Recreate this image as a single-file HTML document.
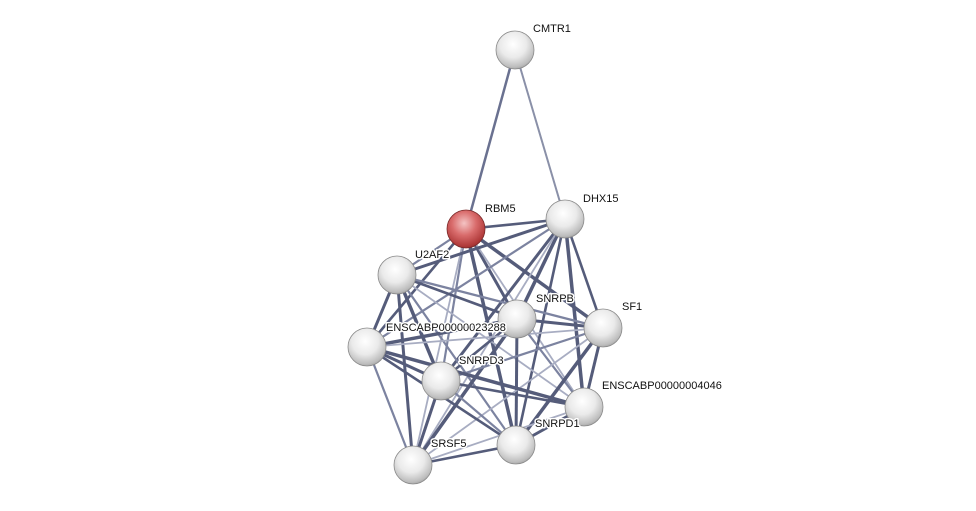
<!DOCTYPE html>
<html><head><meta charset="utf-8"><style>
html,body{margin:0;padding:0;background:#fff;width:976px;height:511px;overflow:hidden}
text{font-family:"Liberation Sans",sans-serif;font-size:11px;fill:#111;stroke:#fff;stroke-width:3px;stroke-linejoin:round;paint-order:stroke}
</style></head><body>
<svg id="s" width="976" height="511" xmlns="http://www.w3.org/2000/svg">
<defs>
<radialGradient id="g" cx="0.45" cy="0.35" r="0.7">
<stop offset="0" stop-color="#ffffff"/><stop offset="0.5" stop-color="#eaeaea"/><stop offset="0.85" stop-color="#bdbdbd"/><stop offset="1" stop-color="#9a9a9a"/></radialGradient>
<radialGradient id="r" cx="0.45" cy="0.35" r="0.7">
<stop offset="0" stop-color="#f4c4c4"/><stop offset="0.45" stop-color="#d96c6c"/><stop offset="0.85" stop-color="#b03a3a"/><stop offset="1" stop-color="#8a2a2a"/></radialGradient>
</defs>
<g id="e"></g><g id="n"></g><g id="t"></g>
</svg>
<script>
var N={CMTR1:[515,50,533,32],RBM5:[466,229,485,212],DHX15:[565,219,583,202],U2AF2:[397,275,415,258],SNRPB:[517,319,536,302],SF1:[603,328,622,310],E1:[367,347,386,331],SNRPD3:[441,381,459,364],E2:[584,407,602,389],SNRPD1:[516,445,535,427],SRSF5:[413,465,431,447]};
var L={E1:"ENSCABP00000023288",E2:"ENSCABP00000004046"};
var ns="http://www.w3.org/2000/svg",E=document.getElementById('e'),G=document.getElementById('n'),T=document.getElementById('t');
function ln(a,b,w,c){var l=document.createElementNS(ns,'line');l.setAttribute('x1',N[a][0]);l.setAttribute('y1',N[a][1]);l.setAttribute('x2',N[b][0]);l.setAttribute('y2',N[b][1]);l.setAttribute('stroke',c);l.setAttribute('stroke-width',w);E.appendChild(l);}
ln('CMTR1','RBM5',2.5,'#6a7190');ln('CMTR1','DHX15',2,'#8a90a8');
var k=['RBM5','DHX15','U2AF2','SNRPB','SF1','E1','SNRPD3','E2','SNRPD1','SRSF5'];
var light={'RBM5-E2':1,'SF1-SRSF5':1,'E2-SRSF5':1,'RBM5-SRSF5':1,'DHX15-SRSF5':1,'SF1-E1':1,'U2AF2-E2':1};
for(var i=0;i<k.length;i++)for(var j=i+1;j<k.length;j++){var key=k[i]+'-'+k[j];var h=(i*7+j*3)%4;
if(light[key])ln(k[i],k[j],1.8,'#a8adc2');else ln(k[i],k[j],h==0?3.5:h==1?3:h==2?2.2:2.6,h==2?'#7c83a0':'#555c7a');}
for(var p in N){var c=document.createElementNS(ns,'circle');c.setAttribute('cx',N[p][0]);c.setAttribute('cy',N[p][1]);c.setAttribute('r',19);c.setAttribute('fill',p=='RBM5'?'url(#r)':'url(#g)');c.setAttribute('stroke',p=='RBM5'?'#7a2a2a':'#8a8a8a');c.setAttribute('stroke-width',0.8);G.appendChild(c);
var t=document.createElementNS(ns,'text');t.setAttribute('x',N[p][2]);t.setAttribute('y',N[p][3]);t.textContent=L[p]||p;T.appendChild(t);}
</script>
</body></html>
